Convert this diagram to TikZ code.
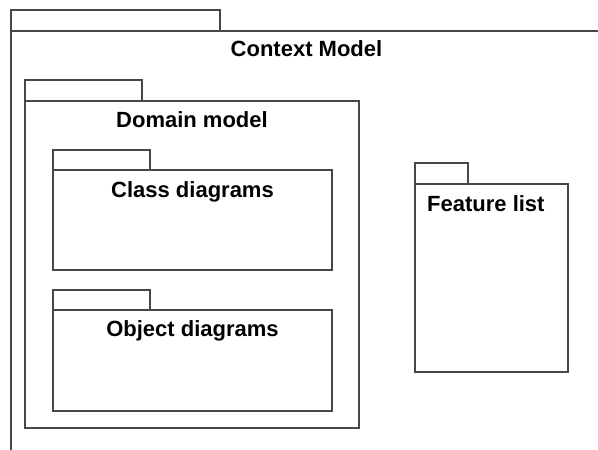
\documentclass[tikz,border=0pt]{standalone}
\usepackage{fontspec}
\setmainfont{Liberation Sans}
\usetikzlibrary{positioning}

\begin{document}
\begin{tikzpicture}[x=1pt, y=-1pt,
				pkg/.style={draw=black!72, line width=1.3pt, rectangle, inner sep=0pt, outer sep=0pt},
				pkgtab/.style={pkg, anchor=south west},
				pkgtitle/.style={font=\fontsize{22}{26}\selectfont\bfseries, inner sep=0pt, anchor=base}]
				\clip (0, 0) rectangle (598, 450);
				% outer package, runs past the page edge
				\node[pkg, anchor=north west, minimum width=591pt, minimum height=440pt](context) at (11, 31) {};
				\node[pkgtab, minimum width=209pt, minimum height=21pt](contexttab) at (context.north west) {};
				\node[pkgtitle](contexttitle) at ([yshift=-25pt]context.north) {Context Model};
				
				\node[pkg, anchor=north west, minimum width=334pt, minimum height=327pt](domain) at (25, 101) {};
				\node[pkgtab, minimum width=117pt, minimum height=21pt](domaintab) at (domain.north west) {};
				\node[pkgtitle](domaintitle) at ([yshift=-26pt]domain.north) {Domain model};
				
				\node[pkg, anchor=north west, minimum width=279pt, minimum height=100pt](class) at (53, 170) {};
				\node[pkgtab, minimum width=97pt, minimum height=20pt](classtab) at (class.north west) {};
				\node[pkgtitle](classtitle) at ([yshift=-27pt]class.north) {Class diagrams};
				
				\node[pkg, anchor=north west, minimum width=279pt, minimum height=101pt](object) at (53, 310) {};
				\node[pkgtab, minimum width=97pt, minimum height=20pt](objecttab) at (object.north west) {};
				\node[pkgtitle](objecttitle) at ([yshift=-26pt]object.north) {Object diagrams};
				
				\node[pkg, anchor=north west, minimum width=153pt, minimum height=188pt](feature) at (415, 184) {};
				\node[pkgtab, minimum width=53pt, minimum height=21pt](featuretab) at (feature.north west) {};
				\node[pkgtitle, anchor=base west](featuretitle) at ([xshift=12pt, yshift=-27pt]feature.north west) {Feature list};
			\end{tikzpicture}
\end{document}
